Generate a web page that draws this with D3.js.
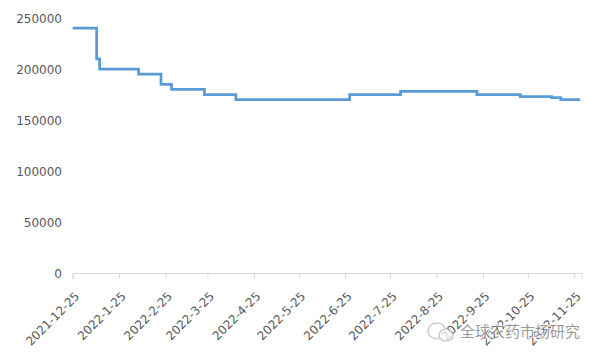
<!DOCTYPE html>
<html>
<head>
<meta charset="utf-8">
<script src="https://cdn.jsdelivr.net/npm/d3@7"></script>
<style>
  body { margin: 0; background: #fff; }
  svg { display: block; }
  .axis text { fill: #595959; font-size: 12px; font-family: "DejaVu Sans", sans-serif; }
  .axis path, .axis line { stroke: #d9d9d9; }
</style>
</head>
<body>
<svg id="main" width="600" height="360"></svg>
<script>
// price change points (step line), value holds until the next date
var dates = [
  "2021-12-25", "2022-01-10", "2022-01-12", "2022-02-07", "2022-02-22",
  "2022-03-01", "2022-03-23", "2022-04-13", "2022-06-28", "2022-08-01",
  "2022-09-21", "2022-10-20", "2022-11-10", "2022-11-16", "2022-11-29"
];
var prices = [
  240000, 210000, 200000, 195000, 185000,
  180000, 175000, 170000, 175000, 178000,
  175000, 173000, 172000, 170000, 170000
];
var tickLabels = [
  "2021-12-25", "2022-1-25", "2022-2-25", "2022-3-25", "2022-4-25", "2022-5-25",
  "2022-6-25", "2022-7-25", "2022-8-25", "2022-9-25", "2022-10-25", "2022-11-25"
];
var yTicks = [0, 50000, 100000, 150000, 200000, 250000];

var parse = d3.timeParse("%Y-%m-%d");
var data = dates.map(function(d, i) {
  return { date: parse(d), value: prices[i] };
});

var svg = d3.select("#main");

var x = d3.scaleTime()
  .domain([parse("2021-12-25"), parse("2022-11-30")])
  .range([72.7, 581.7]);

var y = d3.scaleLinear()
  .domain([0, 250000])
  .range([273, 18]);

// y labels only, no axis line
var yAxis = svg.append("g")
  .attr("class", "axis")
  .attr("transform", "translate(62,0)")
  .call(d3.axisLeft(y).tickValues(yTicks).tickSize(0).tickPadding(0).tickFormat(d3.format("d")));
yAxis.select(".domain").remove();
yAxis.selectAll("text").attr("dy", "0.36em");

var tickDates = tickLabels.map(function(s) {
  var p = s.split("-");
  return new Date(+p[0], +p[1] - 1, +p[2]);
});

var xAxis = svg.append("g")
  .attr("class", "axis")
  .attr("transform", "translate(0,273)")
  .call(d3.axisBottom(x).tickValues(tickDates).tickSizeOuter(0).tickSize(6)
    .tickFormat(function(d, i) { return tickLabels[i]; }));

xAxis.selectAll("text")
  .attr("text-anchor", "end")
  .attr("dy", null)
  .attr("y", 0)
  .attr("transform", "translate(7,24) rotate(-45)");

var line = d3.line()
  .curve(d3.curveStepAfter)
  .x(function(d) { return x(d.date); })
  .y(function(d) { return y(d.value); });

svg.append("path")
  .datum(data)
  .attr("fill", "none")
  .attr("stroke", "#5b9bd5")
  .attr("stroke-width", 2.75)
  .attr("d", line);

// watermark
var wm = svg.append("g").attr("opacity", 0.75);
wm.append("ellipse")
  .attr("cx", 437).attr("cy", 331).attr("rx", 9).attr("ry", 8)
  .attr("fill", "none").attr("stroke", "#aaa").attr("stroke-width", 1.2);
wm.append("ellipse")
  .attr("cx", 446).attr("cy", 335).attr("rx", 7).attr("ry", 6)
  .attr("fill", "#fff").attr("stroke", "#aaa").attr("stroke-width", 1.2);
wm.append("text")
  .attr("x", 580).attr("y", 337)
  .attr("text-anchor", "end")
  .attr("font-family", "Noto Sans CJK SC")
  .attr("font-size", 15)
  .attr("fill", "#777")
  .attr("stroke", "#fff").attr("stroke-width", 2).attr("paint-order", "stroke")
  .text("全球农药市场研究");
</script>
</body>
</html>
